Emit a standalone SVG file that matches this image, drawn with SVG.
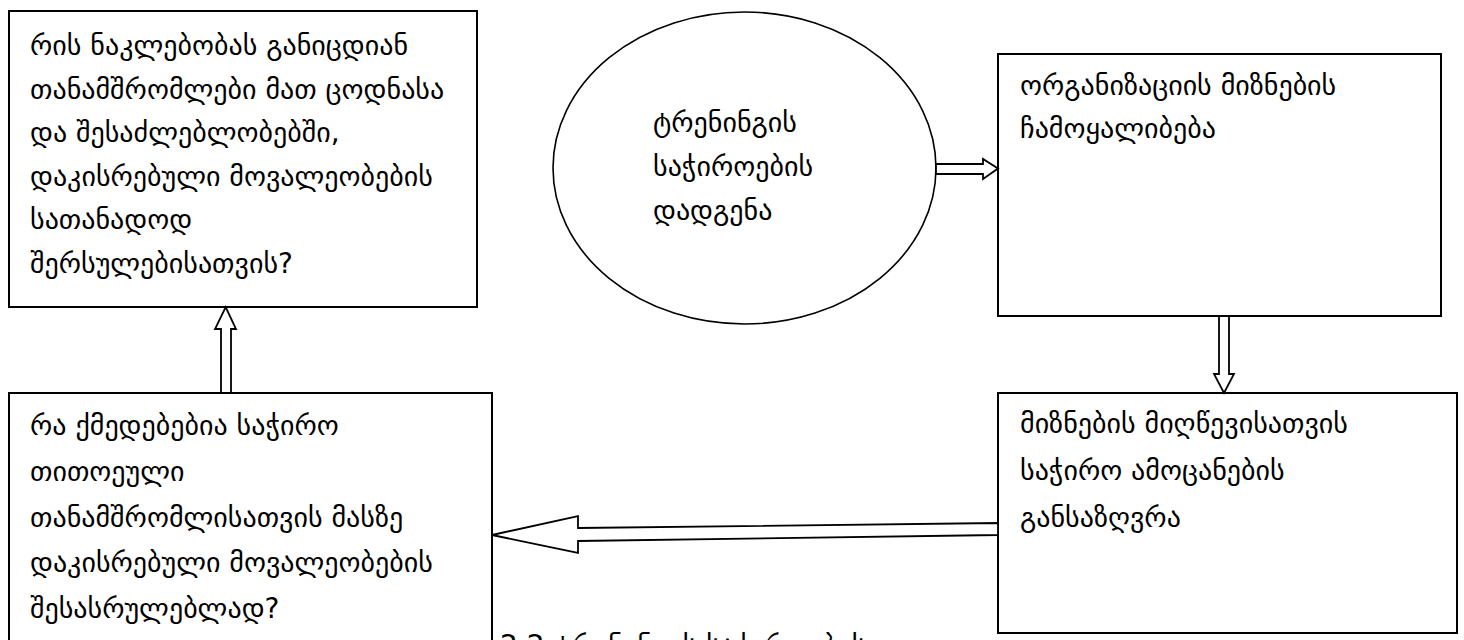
<svg xmlns="http://www.w3.org/2000/svg" width="1464" height="640" viewBox="0 0 1464 640">
<style>
.box{fill:#fff;stroke:#000;stroke-width:2}
.ell{fill:#fff;stroke:#000;stroke-width:1.6}
.t{font-family:"DejaVu Sans","Noto Sans",sans-serif;font-size:28px;fill:#000}
.arr{fill:#fff;stroke:#000;stroke-width:1.8;stroke-linejoin:miter}
</style>
<rect width="1464" height="640" fill="#fff"/>
<g id="caption"><text class="t" x="500" y="655">2.2 ტრენინგის საჭიროების</text></g>
<g id="n1">
<rect class="box" x="9" y="11" width="468" height="296"/>
<text class="t"><tspan x="30" y="55">რის ნაკლებობას განიცდიან</tspan><tspan x="30" y="98.6">თანამშრომლები მათ ცოდნასა</tspan><tspan x="30" y="142">და შესაძლებლობებში,</tspan><tspan x="30" y="186">დაკისრებული მოვალეობების</tspan><tspan x="30" y="229">სათანადოდ</tspan><tspan x="30" y="273">შერსულებისათვის?</tspan></text>
</g>
<g id="n0">
<ellipse class="ell" cx="744.5" cy="168" rx="191.5" ry="156"/>
<text class="t"><tspan x="653" y="132">ტრენინგის</tspan><tspan x="653" y="176">საჭიროების</tspan><tspan x="653" y="220">დადგენა</tspan></text>
</g>
<g id="n2">
<rect class="box" x="998" y="54" width="443" height="262"/>
<text class="t"><tspan x="1020" y="95">ორგანიზაციის მიზნების</tspan><tspan x="1020" y="138">ჩამოყალიბება</tspan></text>
</g>
<g id="n3">
<rect class="box" x="998" y="393" width="459" height="240"/>
<text class="t"><tspan x="1020" y="433">მიზნების მიღწევისათვის</tspan><tspan x="1020" y="480">საჭირო ამოცანების</tspan><tspan x="1020" y="527">განსაზღვრა</tspan></text>
</g>
<g id="n4">
<rect class="box" x="9" y="393" width="483" height="260"/>
<text class="t"><tspan x="30" y="435">რა ქმედებებია საჭირო</tspan><tspan x="30" y="481">თითოეული</tspan><tspan x="30" y="527">თანამშრომლისათვის მასზე</tspan><tspan x="30" y="572">დაკისრებული მოვალეობების</tspan><tspan x="30" y="618">შესასრულებლად?</tspan></text>
</g>
<g id="connectors">
<polygon class="arr" points="936,164 983,164 983,159 998,168.5 983,179 983,174 936,174"/>
<polygon class="arr" points="1219,316 1229,316 1229,374 1234,374 1224,393 1214,374 1219,374"/>
<polygon class="arr" points="998,523 998,535 578,541 578,553 492,535 578,516 578,528"/>
<polygon class="arr" points="221,393 221,329 215,329 225.7,307 236,329 231,329 231,393"/>
</g>
</svg>
